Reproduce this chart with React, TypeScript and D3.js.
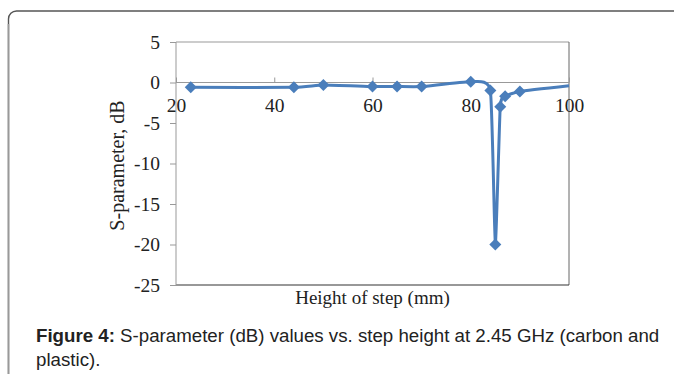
import React, { useEffect, useRef } from 'react';
import * as d3 from 'd3';

// step height (mm) and S-parameter (dB)
const heights = [23, 44, 50, 60, 65, 70, 80, 84, 85, 86, 87, 90, 100];
const sParams = [-0.6, -0.6, -0.3, -0.5, -0.5, -0.5, 0.1, -1, -20, -3, -1.7, -1.1, -0.4];
const xTicks = [20, 40, 60, 80, 100];
const yTicks = [5, 0, -5, -10, -15, -20, -25];

const App = () => {
    const svgRef = useRef<SVGSVGElement>(null);
    const width = 674;
    const height = 374;
    const plot = { left: 176, right: 569, top: 42, bottom: 285 };
    const serif = '"Liberation Serif", "Times New Roman", serif';

    useEffect(() => {
        const svg = d3.select(svgRef.current);
        svg.selectAll('*').remove();

        const x = d3.scaleLinear().domain([20, 100]).range([plot.left, plot.right]);
        const y = d3.scaleLinear().domain([-25, 5]).range([plot.bottom, plot.top]);

        // figure frame: rounded corner top-left, runs off the page
        svg.append('path')
            .attr('d', 'M8.5,400V19A8,8 0 0 1 16.5,11H700')
            .attr('fill', 'none')
            .attr('stroke', '#555')
            .attr('stroke-width', 1.4);
        svg.append('path')
            .attr('d', 'M8.5,400V24')
            .attr('fill', 'none')
            .attr('stroke', '#999')
            .attr('stroke-width', 1.6);

        // plot area border
        svg.append('line')
            .attr('x1', plot.left).attr('x2', plot.right)
            .attr('y1', plot.top).attr('y2', plot.top)
            .attr('stroke', '#999');
        svg.append('line')
            .attr('x1', plot.right).attr('x2', plot.right)
            .attr('y1', plot.top).attr('y2', plot.bottom)
            .attr('stroke', '#666');
        svg.append('line')
            .attr('x1', plot.left).attr('x2', plot.right)
            .attr('y1', plot.bottom).attr('y2', plot.bottom)
            .attr('stroke', '#333')
            .attr('stroke-width', 1.2);

        // y axis
        const yAxis = svg.append('g')
            .attr('transform', `translate(${plot.left},0)`)
            .call(d3.axisLeft(y).tickValues(yTicks).tickSize(6).tickPadding(10).tickFormat(d => String(d)));
        yAxis.selectAll('line, path').attr('stroke', '#999');
        yAxis.select('.domain').attr('d', `M0,${plot.top}V${plot.bottom}`);
        yAxis.selectAll('text')
            .attr('font-family', serif)
            .attr('font-size', 19.5)
            .attr('fill', '#222');

        // x axis crossing at 0
        const xAxis = svg.append('g')
            .attr('transform', `translate(0,${y(0)})`)
            .call(d3.axisBottom(x).tickValues(xTicks).tickSize(-5).tickPadding(16).tickFormat(d => String(d)));
        xAxis.selectAll('line, path').attr('stroke', '#999');
        xAxis.select('.domain').attr('d', `M${plot.left},0H${plot.right}`);
        xAxis.selectAll('text')
            .attr('font-family', serif)
            .attr('font-size', 19.5)
            .attr('fill', '#222');

        const data = heights.map((h, i) => ({ h, s: sParams[i] }));

        const line = d3.line<{ h: number; s: number }>()
            .x(d => x(d.h))
            .y(d => y(d.s))
            .curve(d3.curveCardinal.tension(0.55));

        svg.append('path')
            .datum(data)
            .attr('d', line)
            .attr('fill', 'none')
            .attr('stroke', '#4a7ebb')
            .attr('stroke-width', 3)
            .attr('stroke-linejoin', 'round');

        // diamond markers (last point has none)
        const r = 6;
        svg.append('g')
            .selectAll('path')
            .data(data.slice(0, -1))
            .join('path')
            .attr('transform', d => `translate(${x(d.h)},${y(d.s)})`)
            .attr('d', `M0,${-r}L${r},0L0,${r}L${-r},0Z`)
            .attr('fill', '#4a7ebb');

        // axis titles
        svg.append('text')
            .attr('x', (plot.left + plot.right) / 2)
            .attr('y', 304)
            .attr('text-anchor', 'middle')
            .attr('font-family', serif)
            .attr('font-size', 19)
            .attr('fill', '#222')
            .text('Height of step (mm)');

        svg.append('text')
            .attr('transform', `translate(124,${(plot.top + plot.bottom) / 2 + 2}) rotate(-90)`)
            .attr('text-anchor', 'middle')
            .attr('font-family', serif)
            .attr('font-size', 20)
            .attr('fill', '#222')
            .text('S-parameter, dB');

        // caption
        const caption = svg.append('text')
            .attr('font-family', '"Liberation Sans", Arial, sans-serif')
            .attr('font-size', 18.7)
            .attr('fill', '#222');
        const line1 = caption.append('tspan').attr('x', 36).attr('y', 342);
        line1.append('tspan').attr('font-weight', 'bold').text('Figure 4:');
        line1.append('tspan').text(' S-parameter (dB) values vs. step height at 2.45 GHz (carbon and');
        caption.append('tspan').attr('x', 36).attr('y', 366).text('plastic).');
    }, []);

    return (
        <svg ref={svgRef} width={width} height={height}
            style={{ position: 'absolute', left: 0, top: 0, background: 'white' }}></svg>
    );
};

export default App;
